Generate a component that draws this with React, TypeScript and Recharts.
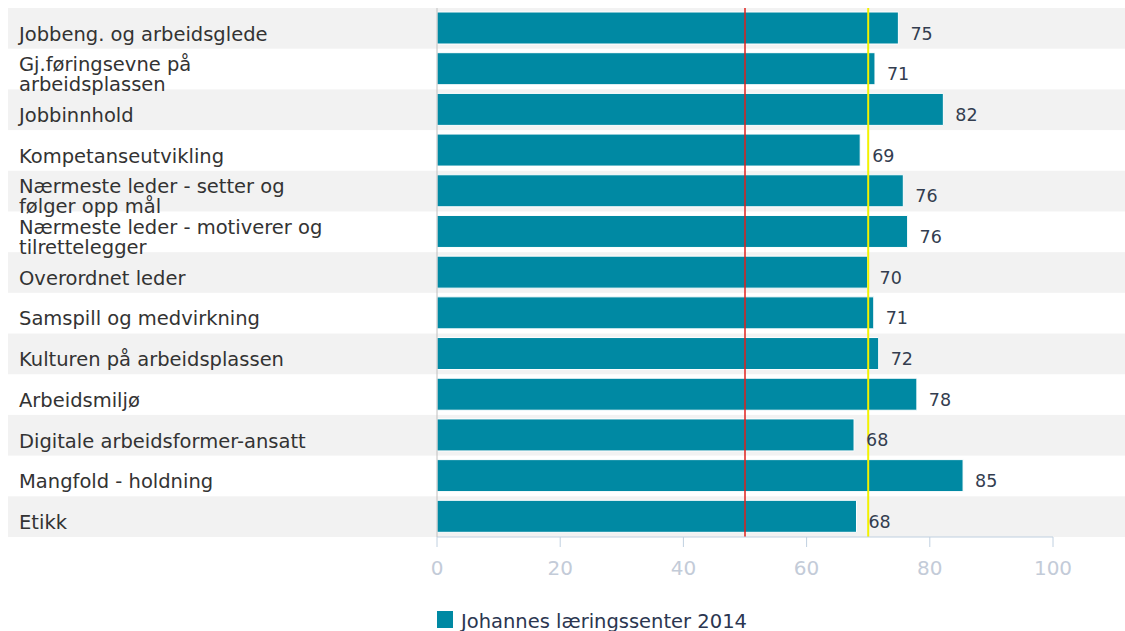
import React from 'react';
import { BarChart, Bar, XAxis, YAxis, ReferenceLine, ReferenceArea, LabelList, Legend } from 'recharts';

const categoryLines: string[][] = [
  ['Jobbeng. og arbeidsglede'],
  ['Gj.føringsevne på', 'arbeidsplassen'],
  ['Jobbinnhold'],
  ['Kompetanseutvikling'],
  ['Nærmeste leder - setter og', 'følger opp mål'],
  ['Nærmeste leder - motiverer og', 'tilrettelegger'],
  ['Overordnet leder'],
  ['Samspill og medvirkning'],
  ['Kulturen på arbeidsplassen'],
  ['Arbeidsmiljø'],
  ['Digitale arbeidsformer-ansatt'],
  ['Mangfold - holdning'],
  ['Etikk'],
];
const values = [74.9, 71.1, 82.2, 68.7, 75.7, 76.4, 69.9, 70.9, 71.7, 77.9, 67.7, 85.4, 68.1];
const valueLabels = [75, 71, 82, 69, 76, 76, 70, 71, 72, 78, 68, 85, 68];
const xTicks = [0, 20, 40, 60, 80, 100];
const seriesName = 'Johannes læringssenter 2014';
const redLineValue = 50;
const yellowLineValue = 70;

const FONT = '"DejaVu Sans", Verdana, sans-serif';
const W = 1117;
const H = 623;
const BAR = '#0089a3';

const data = categoryLines.map((lines, i) => ({
  name: lines.join(' '),
  lines,
  value: values[i],
  label: valueLabels[i],
}));

const CategoryTick = (props: any) => {
  const { y, payload } = props;
  const found = data.find((d) => d.name === payload.value);
  const lines = found ? found.lines : [String(payload.value)];
  const n = lines.length;
  return (
    <text x={11} y={y} fontFamily={FONT} fontSize={19.5} fill="#333333" textAnchor="start">
      {lines.map((l, i) => (
        <tspan key={i} x={11} y={y + 12.3 + (i - (n - 1) / 2) * 20}>
          {l}
        </tspan>
      ))}
    </text>
  );
};

const ValueLabel = (props: any) => {
  const { x, y, width, height, value } = props;
  return (
    <text
      x={Number(x) + Number(width) + 12}
      y={Number(y) + Number(height) / 2 + 11.5}
      fontFamily={FONT}
      fontSize={17.5}
      fill="#333d4f"
      textAnchor="start"
    >
      {value}
    </text>
  );
};

const Band = (props: any) => (
  <rect x={0} y={props.y} width={W + 40} height={props.height} fill="#f2f2f2" />
);

const LegendContent = () => (
  <div
    style={{
      display: 'flex',
      alignItems: 'flex-start',
      fontFamily: FONT,
      fontSize: 19.5,
      color: '#2b3650',
      whiteSpace: 'nowrap',
      lineHeight: '23px',
    }}
  >
    <span style={{ display: 'inline-block', width: 16, height: 17, background: BAR, marginRight: 8, marginTop: 1 }} />
    <span>{seriesName}</span>
  </div>
);

export default function App() {
  return (
    <div style={{ position: 'absolute', left: 8, top: 8, width: W, height: H }}>
      <style>{'html,body{overflow:hidden;margin:0;padding:0}'}</style>
      <BarChart
        width={W}
        height={H}
        data={data}
        layout="vertical"
        margin={{ top: 0, right: 72, bottom: 0, left: 0 }}
        barCategoryGap={0}
        style={{ overflow: 'visible' }}
      >
        {data
          .filter((_, i) => i % 2 === 0)
          .map((d) => (
            <ReferenceArea key={d.name} y1={d.name} y2={d.name} ifOverflow="visible" shape={Band} />
          ))}
        <XAxis
          type="number"
          domain={[0, 100]}
          ticks={xTicks}
          interval={0}
          height={94}
          tickSize={10}
          tickMargin={14}
          axisLine={{ stroke: '#c0d0e0' }}
          tickLine={{ stroke: '#c0d0e0' }}
          tick={{ fill: '#c3cbd8', fontSize: 20, fontFamily: FONT }}
        />
        <YAxis
          type="category"
          dataKey="name"
          width={429}
          interval={0}
          tickLine={false}
          axisLine={{ stroke: '#c0c0c0' }}
          tick={<CategoryTick />}
        />
        <Bar dataKey="value" fill={BAR} stroke="#ffffff" strokeWidth={1} barSize={32} isAnimationActive={false}>
          <LabelList dataKey="label" content={<ValueLabel />} />
        </Bar>
        <ReferenceLine x={redLineValue} stroke="#e0201c" strokeWidth={1.5} />
        <ReferenceLine x={yellowLineValue} stroke="#f2f200" strokeWidth={2} />
        <Legend
          layout="horizontal"
          verticalAlign="middle"
          align="center"
          wrapperStyle={{ left: 429, top: 602, width: 'auto', height: 'auto' }}
          content={<LegendContent />}
        />
      </BarChart>
    </div>
  );
}
